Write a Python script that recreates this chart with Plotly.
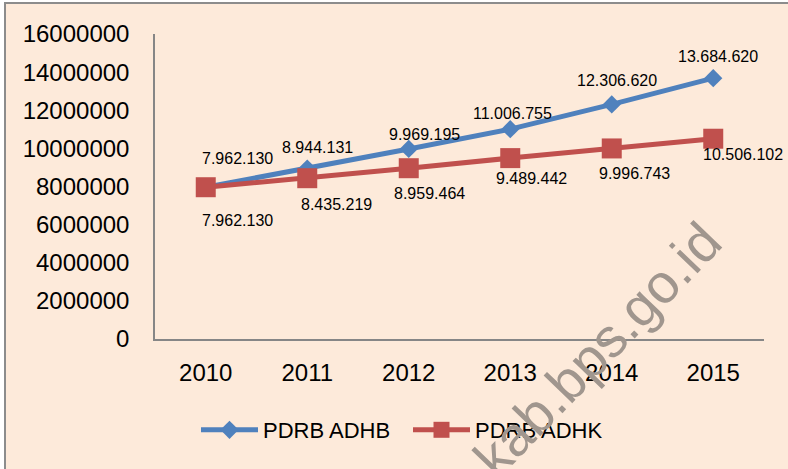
import plotly.graph_objects as go

years = ["2010", "2011", "2012", "2013", "2014", "2015"]
adhb = [7962130, 8944131, 9969195, 11006755, 12306620, 13684620]
adhk = [7962130, 8435219, 8959464, 9489442, 9996743, 10506102]
adhb_labels = ["7.962.130", "8.944.131", "9.969.195", "11.006.755", "12.306.620", "13.684.620"]
adhk_labels = ["7.962.130", "8.435.219", "8.959.464", "9.489.442", "9.996.743", "10.506.102"]
y_ticks = [0, 2000000, 4000000, 6000000, 8000000, 10000000, 12000000, 14000000, 16000000]

# label offsets (pixels) - styling only
adhb_off = [(32, 29), (10, 21), (16, 14), (2, 16), (5, 24), (5, 22)]
adhk_off = [(32, -33), (29, -26), (21, -25), (21, -20), (23, -25), (30, -16)]

BLUE = "#4F81BD"
RED = "#C0504D"
PEACH = "#FDEADA"
FONT = "Liberation Sans"

W, H = 788, 469
L, R, T, B = 155, 24, 34, 130
pw, ph = W - L - R, H - T - B

def px_x(x):
    return (x - L) / pw

def px_y(y):
    return (H - B - y) / ph

fig = go.Figure()
fig.add_trace(go.Scatter(x=years, y=adhb, mode="lines+markers", name="PDRB ADHB",
                         line=dict(color=BLUE, width=5),
                         marker=dict(symbol="diamond", size=14, color=BLUE)))
fig.add_trace(go.Scatter(x=years, y=adhk, mode="lines+markers", name="PDRB ADHK",
                         line=dict(color=RED, width=5),
                         marker=dict(symbol="square", size=20, color=RED)))

ann = []
for i, (v, t, (dx, dy)) in enumerate(zip(adhb, adhb_labels, adhb_off)):
    ann.append(dict(x=i, y=v, text=t, showarrow=False, xshift=dx, yshift=dy,
                    xanchor="center", yanchor="middle",
                    font=dict(family=FONT, size=16, color="black")))
for i, (v, t, (dx, dy)) in enumerate(zip(adhk, adhk_labels, adhk_off)):
    ann.append(dict(x=i, y=v, text=t, showarrow=False, xshift=dx, yshift=dy,
                    xanchor="center", yanchor="middle",
                    font=dict(family=FONT, size=16, color="black")))

# watermark
ann.append(dict(xref="paper", yref="paper", x=px_x(597), y=px_y(350), text="kab.bps.go.id",
                showarrow=False, textangle=-46, xanchor="center", yanchor="middle",
                font=dict(family=FONT, size=55, color="#A0968E")))

fig.update_layout(
    width=W, height=H,
    margin=dict(l=L, r=R, t=T, b=B),
    paper_bgcolor="white",
    plot_bgcolor="rgba(0,0,0,0)",
    font=dict(family=FONT, color="black"),
    showlegend=True,
    legend=dict(orientation="h", x=px_x(196), y=px_y(430), xanchor="left", yanchor="middle",
                font=dict(family=FONT, size=22, color="black"),
                bgcolor="rgba(0,0,0,0)", itemwidth=57, tracegroupgap=0,
                entrywidth=140, entrywidthmode="pixels"),
    annotations=ann,
    shapes=[dict(type="rect", xref="paper", yref="paper",
                 x0=px_x(5), x1=px_x(900), y0=px_y(600), y1=px_y(3),
                 line=dict(color="#8C8C8C", width=2), fillcolor=PEACH, layer="below")],
    xaxis=dict(type="category", range=[-0.5, 5.5], showgrid=False, zeroline=False,
               showline=True, linecolor="#868686", linewidth=1.5, ticks="",
               ticklabelstandoff=11,
               tickfont=dict(family=FONT, size=24, color="black")),
    yaxis=dict(range=[0, 16000000], tickvals=y_ticks, ticktext=[str(v) for v in y_ticks],
               showgrid=False, zeroline=False, showline=True, linecolor="#868686",
               linewidth=1.5, ticks="", ticklabelstandoff=19,
               tickfont=dict(family=FONT, size=24, color="black")),
)

fig.write_html("out.html", config={"displayModeBar": False},
               post_script="document.body.style.margin='0';document.body.style.padding='0';")
